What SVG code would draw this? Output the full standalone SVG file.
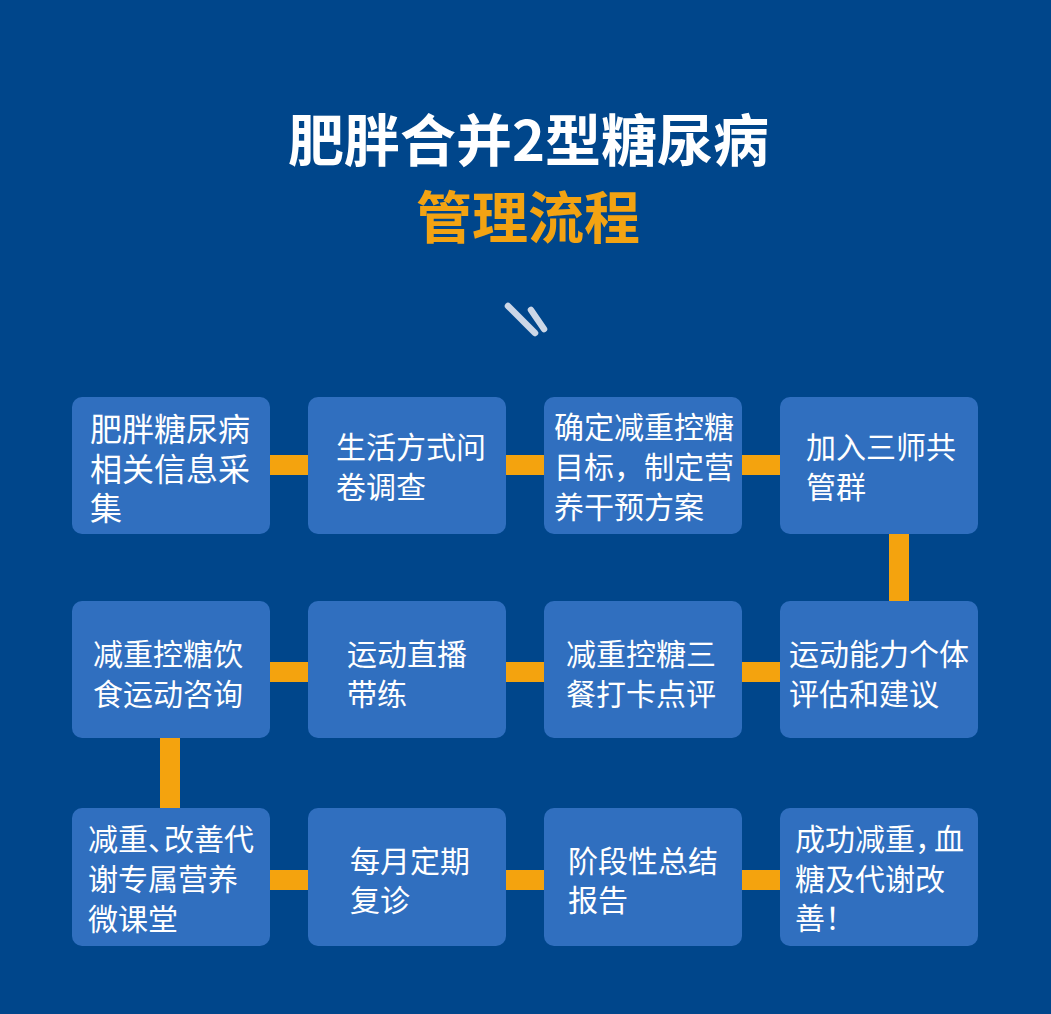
<svg xmlns="http://www.w3.org/2000/svg" width="1051" height="1014" viewBox="0 0 1051 1014">
<style>
.node rect{fill:#306fbf;}
.t{font-family:"Noto Sans CJK SC","Noto Sans",sans-serif;font-size:30px;fill:#ffffff;}
.big{font-size:32px;}
.title{font-family:"Noto Sans CJK SC","Noto Sans",sans-serif;font-weight:700;font-size:56px;text-anchor:middle;}
.bar{fill:#f4a30e;}
</style>
<rect x="0" y="0" width="1051" height="1014" fill="#00468b"/>
<text class="title" x="528.5" y="161" fill="#ffffff">肥胖合并2型糖尿病</text>
<text class="title" x="528" y="238" fill="#f3a312">管理流程</text>
<g stroke="#ccd7e7" stroke-width="6.5" stroke-linecap="round">
<line x1="508" y1="306" x2="535" y2="333"/>
<line x1="531" y1="310" x2="544" y2="329"/>
</g>
<g id="connectors">
<rect class="bar" x="270" y="455" width="39" height="20"/>
<rect class="bar" x="505" y="455" width="40" height="20"/>
<rect class="bar" x="741" y="455" width="40" height="20"/>
<rect class="bar" x="889" y="533" width="20" height="69"/>
<rect class="bar" x="270" y="662" width="39" height="20"/>
<rect class="bar" x="505" y="662" width="40" height="20"/>
<rect class="bar" x="741" y="662" width="40" height="20"/>
<rect class="bar" x="160" y="737" width="20" height="72"/>
<rect class="bar" x="270" y="870" width="39" height="20"/>
<rect class="bar" x="505" y="870" width="40" height="20"/>
<rect class="bar" x="741" y="870" width="40" height="20"/>
</g>
<g id="n1" class="node"><rect x="72" y="397" width="198" height="137" rx="10"/>
<text class="t big" x="90" y="441">肥胖糖尿病</text><text class="t big" x="90" y="481">相关信息采</text><text class="t big" x="90" y="520">集</text></g>
<g id="n2" class="node"><rect x="308" y="397" width="198" height="137" rx="10"/>
<text class="t" x="336" y="458">生活方式问</text><text class="t" x="336" y="498">卷调查</text></g>
<g id="n3" class="node"><rect x="544" y="397" width="198" height="137" rx="10"/>
<text class="t" x="554" y="438">确定减重控糖</text><text class="t" x="554" y="478">目标，制定营</text><text class="t" x="554" y="518">养干预方案</text></g>
<g id="n4" class="node"><rect x="780" y="397" width="198" height="137" rx="10"/>
<text class="t" x="806" y="458">加入三师共</text><text class="t" x="806" y="498">管群</text></g>
<g id="n5" class="node"><rect x="72" y="601" width="198" height="137" rx="10"/>
<text class="t" x="93" y="665">减重控糖饮</text><text class="t" x="93" y="705">食运动咨询</text></g>
<g id="n6" class="node"><rect x="308" y="601" width="198" height="137" rx="10"/>
<text class="t" x="347" y="665">运动直播</text><text class="t" x="347" y="705">带练</text></g>
<g id="n7" class="node"><rect x="544" y="601" width="198" height="137" rx="10"/>
<text class="t" x="566" y="665">减重控糖三</text><text class="t" x="566" y="705">餐打卡点评</text></g>
<g id="n8" class="node"><rect x="780" y="601" width="198" height="137" rx="10"/>
<text class="t" x="789" y="665">运动能力个体</text><text class="t" x="789" y="705">评估和建议</text></g>
<g id="n9" class="node"><rect x="72" y="808" width="198" height="138" rx="10"/>
<text class="t" x="88" y="850">减重、<tspan dx="-14">改善代</tspan></text><text class="t" x="88" y="890">谢专属营养</text><text class="t" x="88" y="930">微课堂</text></g>
<g id="n10" class="node"><rect x="308" y="808" width="198" height="138" rx="10"/>
<text class="t" x="350" y="872">每月定期</text><text class="t" x="350" y="911">复诊</text></g>
<g id="n11" class="node"><rect x="544" y="808" width="198" height="138" rx="10"/>
<text class="t" x="568" y="872">阶段性总结</text><text class="t" x="568" y="911">报告</text></g>
<g id="n12" class="node"><rect x="780" y="808" width="198" height="138" rx="10"/>
<text class="t" x="795" y="850">成功减重，<tspan dx="-11">血</tspan></text><text class="t" x="795" y="890">糖及代谢改</text><text class="t" x="795" y="929">善！</text></g>
</svg>
